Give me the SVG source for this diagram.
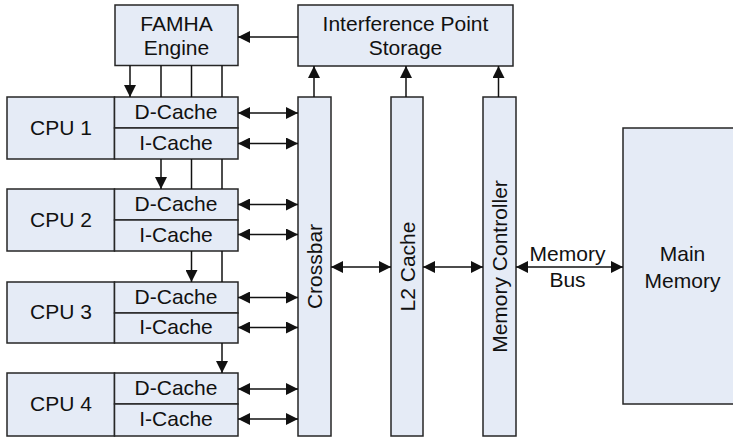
<svg xmlns="http://www.w3.org/2000/svg" width="733" height="438" viewBox="0 0 733 438">
  <style>
    .box { fill: #e5ebf6; stroke: #262626; stroke-width: 1.5; }
    .lbl { font-family: "Liberation Sans", Arial, sans-serif; font-size: 21px; fill: #111; text-anchor: middle; }
    .vlbl { font-family: "Liberation Sans", Arial, sans-serif; font-size: 21px; fill: #111; text-anchor: middle; dominant-baseline: central; }
    .wire { stroke: #111; stroke-width: 1.5; fill: none; }
    .one { marker-end: url(#head); }
    .two { marker-start: url(#tail); marker-end: url(#head); }
  </style>
  <defs>
    <marker id="head" viewBox="0 0 12 12" refX="12" refY="6" markerWidth="12" markerHeight="12" markerUnits="userSpaceOnUse" orient="auto">
      <path d="M0,0 L12,6 L0,12 z" fill="#111"/>
    </marker>
    <marker id="tail" viewBox="0 0 12 12" refX="0" refY="6" markerWidth="12" markerHeight="12" markerUnits="userSpaceOnUse" orient="auto">
      <path d="M12,0 L0,6 L12,12 z" fill="#111"/>
    </marker>
  </defs>

  <rect width="733" height="438" fill="#ffffff"/>

  <g id="famha-engine">
    <rect class="box" x="115" y="5" width="123" height="60.5"/>
    <text class="lbl" x="176.5" y="30.5">FAMHA</text>
    <text class="lbl" x="176.5" y="55">Engine</text>
  </g>

  <g id="interference-point-storage">
    <rect class="box" x="298" y="5" width="215" height="61"/>
    <text class="lbl" x="405.5" y="31">Interference Point</text>
    <text class="lbl" x="405.5" y="55">Storage</text>
  </g>

  <g id="cpu1">
    <rect class="box" x="7" y="97" width="107.5" height="62"/>
    <rect class="box" x="114.5" y="97" width="123.5" height="31"/>
    <rect class="box" x="114.5" y="128" width="123.5" height="31"/>
    <text class="lbl" x="61" y="135">CPU 1</text>
    <text class="lbl" x="176" y="118.5">D-Cache</text>
    <text class="lbl" x="176" y="149.5">I-Cache</text>
  </g>

  <g id="cpu2">
    <rect class="box" x="7" y="189" width="107.5" height="62"/>
    <rect class="box" x="114.5" y="189" width="123.5" height="31"/>
    <rect class="box" x="114.5" y="220" width="123.5" height="31"/>
    <text class="lbl" x="61" y="227">CPU 2</text>
    <text class="lbl" x="176" y="210.5">D-Cache</text>
    <text class="lbl" x="176" y="241.5">I-Cache</text>
  </g>

  <g id="cpu3">
    <rect class="box" x="7" y="282" width="107.5" height="61"/>
    <rect class="box" x="114.5" y="282" width="123.5" height="31"/>
    <rect class="box" x="114.5" y="313" width="123.5" height="30"/>
    <text class="lbl" x="61" y="319">CPU 3</text>
    <text class="lbl" x="176" y="303.5">D-Cache</text>
    <text class="lbl" x="176" y="334">I-Cache</text>
  </g>

  <g id="cpu4">
    <rect class="box" x="7" y="373" width="107.5" height="63"/>
    <rect class="box" x="114.5" y="373" width="123.5" height="31"/>
    <rect class="box" x="114.5" y="404" width="123.5" height="32"/>
    <text class="lbl" x="61" y="411">CPU 4</text>
    <text class="lbl" x="176" y="394.5">D-Cache</text>
    <text class="lbl" x="176" y="426">I-Cache</text>
  </g>

  <g id="crossbar">
    <rect class="box" x="298" y="97" width="33" height="339"/>
    <text class="vlbl" transform="translate(314.5 266.5) rotate(-90)">Crossbar</text>
  </g>

  <g id="l2-cache">
    <rect class="box" x="391" y="97" width="32" height="339"/>
    <text class="vlbl" transform="translate(407 266.5) rotate(-90)">L2 Cache</text>
  </g>

  <g id="memory-controller">
    <rect class="box" x="483" y="97" width="33" height="339"/>
    <text class="vlbl" transform="translate(499.5 266.5) rotate(-90)">Memory Controller</text>
  </g>

  <g id="main-memory">
    <rect class="box" x="623" y="128" width="120" height="276"/>
    <text class="lbl" x="682.5" y="261">Main</text>
    <text class="lbl" x="682.5" y="288">Memory</text>
  </g>

  <g id="connectors">
    <!-- storage feeds the engine -->
    <line class="wire one" x1="298" y1="37" x2="238" y2="37"/>
    <!-- engine to each CPU -->
    <line class="wire one" x1="130" y1="65.5" x2="130" y2="97"/>
    <line class="wire" x1="161" y1="65.5" x2="161" y2="97"/>
    <line class="wire one" x1="161" y1="159" x2="161" y2="189"/>
    <line class="wire" x1="191.5" y1="65.5" x2="191.5" y2="97"/>
    <line class="wire" x1="191.5" y1="159" x2="191.5" y2="189"/>
    <line class="wire one" x1="191.5" y1="251" x2="191.5" y2="282"/>
    <line class="wire" x1="222" y1="65.5" x2="222" y2="97"/>
    <line class="wire" x1="222" y1="159" x2="222" y2="189"/>
    <line class="wire" x1="222" y1="251" x2="222" y2="282"/>
    <line class="wire one" x1="222" y1="343" x2="222" y2="373"/>
    <!-- caches to crossbar -->
    <line class="wire two" x1="238" y1="113" x2="298" y2="113"/>
    <line class="wire two" x1="238" y1="143.5" x2="298" y2="143.5"/>
    <line class="wire two" x1="238" y1="204.5" x2="298" y2="204.5"/>
    <line class="wire two" x1="238" y1="234.5" x2="298" y2="234.5"/>
    <line class="wire two" x1="238" y1="297.5" x2="298" y2="297.5"/>
    <line class="wire two" x1="238" y1="327.5" x2="298" y2="327.5"/>
    <line class="wire two" x1="238" y1="389" x2="298" y2="389"/>
    <line class="wire two" x1="238" y1="419" x2="298" y2="419"/>
    <!-- up into the storage -->
    <line class="wire one" x1="314" y1="97" x2="314" y2="66"/>
    <line class="wire one" x1="406" y1="97" x2="406" y2="66"/>
    <line class="wire one" x1="498.5" y1="97" x2="498.5" y2="66"/>
    <!-- crossbar / L2 / controller / memory -->
    <line class="wire two" x1="331" y1="267" x2="391" y2="267"/>
    <line class="wire two" x1="423" y1="267" x2="483" y2="267"/>
    <line class="wire two" x1="516" y1="267" x2="623" y2="267"/>
    <text class="lbl" x="567.5" y="261">Memory</text>
    <text class="lbl" x="567.5" y="287">Bus</text>
  </g>
</svg>
